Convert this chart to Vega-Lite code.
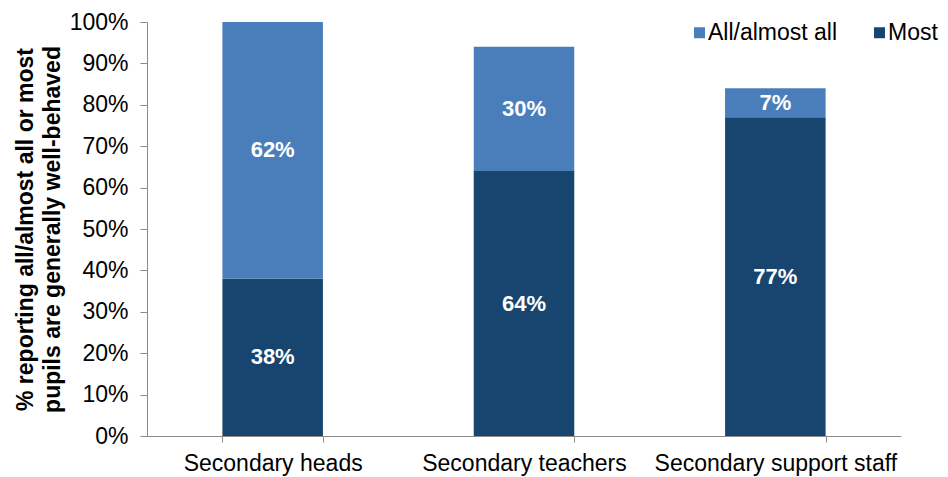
{
  "$schema": "https://vega.github.io/schema/vega-lite/v6.json",
  "autosize": {"type": "none"},
  "padding": {"left": 147, "top": 22, "right": 47, "bottom": 41},
  "width": 754,
  "height": 414,
  "background": "white",
  "config": {
    "view": {"stroke": null},
    "font": "Liberation Sans"
  },
  "data": {
    "values": [
      {"group": "Secondary heads", "series": "Most", "pct": 0.38},
      {"group": "Secondary heads", "series": "All/almost all", "pct": 0.62},
      {"group": "Secondary teachers", "series": "Most", "pct": 0.64},
      {"group": "Secondary teachers", "series": "All/almost all", "pct": 0.30},
      {"group": "Secondary support staff", "series": "Most", "pct": 0.77},
      {"group": "Secondary support staff", "series": "All/almost all", "pct": 0.07}
    ]
  },
  "encoding": {
    "x": {
      "field": "group",
      "type": "nominal",
      "sort": ["Secondary heads", "Secondary teachers", "Secondary support staff"],
      "scale": {"paddingInner": 0.6, "paddingOuter": 0.3},
      "axis": {
        "title": null,
        "labelAngle": 0,
        "labelFontSize": 23,
        "labelColor": "#000000",
        "labelPadding": 10,
        "labelLimit": 0,
        "tickBand": "extent",
        "tickSize": 6,
        "tickColor": "#8c8c8c",
        "domainColor": "#8c8c8c",
        "grid": false
      }
    },
    "y": {
      "field": "pct",
      "type": "quantitative",
      "stack": "zero",
      "scale": {"domain": [0, 1], "nice": false},
      "axis": {
        "values": [0, 0.1, 0.2, 0.3, 0.4, 0.5, 0.6, 0.7, 0.8, 0.9, 1],
        "format": ".0%",
        "grid": false,
        "labelFontSize": 23,
        "labelColor": "#000000",
        "labelPadding": 12,
        "tickSize": 7,
        "tickColor": "#8c8c8c",
        "domainColor": "#8c8c8c",
        "title": ["% reporting all/almost all or most", "pupils are generally well-behaved"],
        "titleFontSize": 23,
        "titleFontWeight": "bold",
        "titleColor": "#000000",
        "titleLineHeight": 27,
        "titlePadding": 5
      }
    },
    "order": {"field": "series", "sort": "descending"}
  },
  "layer": [
    {
      "mark": {"type": "bar"},
      "encoding": {
        "color": {
          "field": "series",
          "type": "nominal",
          "scale": {"domain": ["All/almost all", "Most"], "range": ["#4A7EBB", "#17456F"]},
          "legend": {
            "title": null,
            "orient": "none",
            "legendX": 541,
            "legendY": -1,
            "direction": "horizontal",
            "symbolType": "square",
            "symbolSize": 121,
            "symbolStrokeWidth": 0,
            "labelFontSize": 23,
            "labelColor": "#000000",
            "labelOffset": -3,
            "columnPadding": 30
          }
        }
      }
    },
    {
      "mark": {"type": "text", "color": "white", "fontSize": 22, "fontWeight": "bold", "baseline": "middle"},
      "encoding": {
        "y": {"field": "pct", "type": "quantitative", "stack": "zero", "bandPosition": 0.5},
        "text": {"field": "pct", "type": "quantitative", "format": ".0%"}
      }
    }
  ]
}
